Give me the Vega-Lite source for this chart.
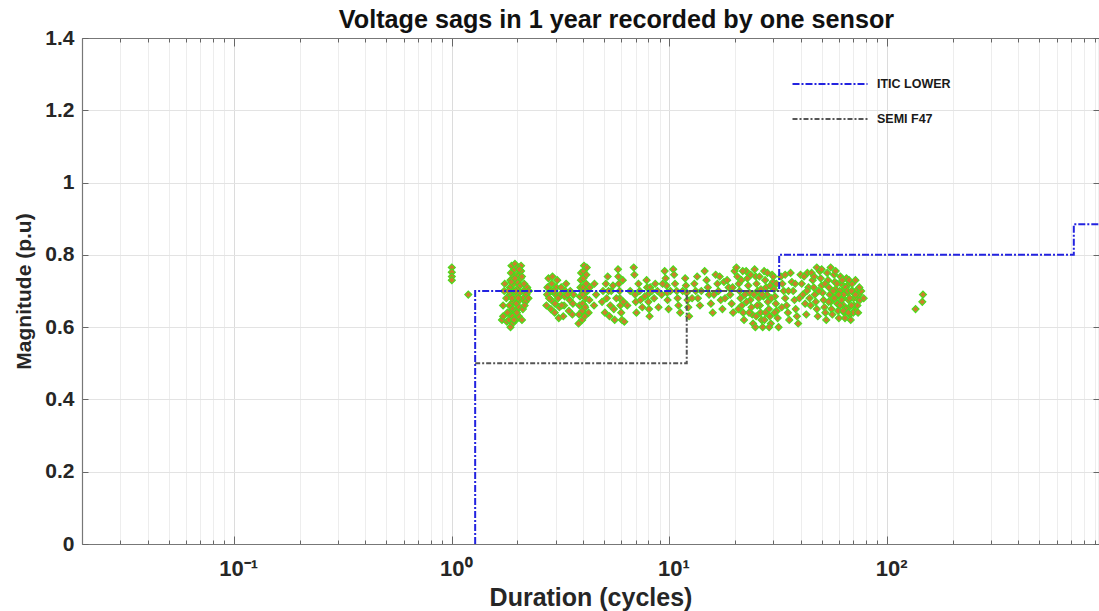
{
  "$schema": "https://vega.github.io/schema/vega-lite/v6.json",
  "width": 1017,
  "height": 506,
  "autosize": {"type": "none"},
  "padding": {"left": 82, "top": 38, "right": 0, "bottom": 67},
  "background": "white",
  "title": {"text": "Voltage sags in 1 year recorded by one sensor", "fontSize": 25.2, "fontWeight": "bold", "font": "Liberation Sans", "color": "#111111", "anchor": "middle", "dx": 26, "dy": 26, "baseline": "alphabetic", "offset": 0},
  "config": {"view": {"stroke": "#777777", "strokeWidth": 1}, "font": "Liberation Sans"},
  "resolve": {"axis": {"x": "independent", "y": "independent"}},
  "datasets": {
    "pts": [
      {"d":1.0,"m":0.765},{"d":1.0,"m":0.752},{"d":1.0,"m":0.74},{"d":1.0,"m":0.73},{"d":1.19,"m":0.69},
      {"d":1.7,"m":0.62},{"d":1.72,"m":0.63},{"d":1.72,"m":0.66},{"d":1.74,"m":0.70},{"d":1.75,"m":0.72},{"d":1.78,"m":0.68},{"d":1.79,"m":0.615},
      {"d":1.83,"m":0.62},{"d":1.84,"m":0.64},{"d":1.84,"m":0.66},{"d":1.85,"m":0.69},{"d":1.85,"m":0.71},{"d":1.86,"m":0.73},{"d":1.87,"m":0.75},{"d":1.88,"m":0.77},
      {"d":1.9,"m":0.61},{"d":1.9,"m":0.63},{"d":1.91,"m":0.65},{"d":1.91,"m":0.67},{"d":1.92,"m":0.7},{"d":1.92,"m":0.72},{"d":1.93,"m":0.74},{"d":1.94,"m":0.76},{"d":1.95,"m":0.775},
      {"d":1.97,"m":0.62},{"d":1.97,"m":0.645},{"d":1.98,"m":0.665},{"d":1.98,"m":0.685},{"d":1.99,"m":0.705},{"d":2.0,"m":0.725},{"d":2.0,"m":0.745},{"d":2.01,"m":0.765},
      {"d":2.03,"m":0.63},{"d":2.04,"m":0.655},{"d":2.05,"m":0.675},{"d":2.05,"m":0.695},{"d":2.06,"m":0.715},{"d":2.07,"m":0.735},{"d":2.08,"m":0.755},{"d":2.08,"m":0.77},
      {"d":2.12,"m":0.65},{"d":2.13,"m":0.68},{"d":2.14,"m":0.70},{"d":2.15,"m":0.72},{"d":2.18,"m":0.67},{"d":2.2,"m":0.69},{"d":2.22,"m":0.71},{"d":2.25,"m":0.68},{"d":2.26,"m":0.70},
      {"d":1.8,"m":0.64},{"d":1.82,"m":0.70},{"d":1.86,"m":0.60},{"d":1.89,"m":0.68},{"d":1.93,"m":0.62},{"d":1.96,"m":0.70},{"d":1.99,"m":0.64},{"d":2.02,"m":0.68},{"d":2.02,"m":0.74},{"d":2.1,"m":0.62},{"d":2.1,"m":0.74},{"d":2.16,"m":0.66},{"d":1.88,"m":0.725},{"d":1.95,"m":0.735},{"d":2.04,"m":0.76},
      {"d":2.72,"m":0.66},{"d":2.74,"m":0.69},{"d":2.75,"m":0.71},{"d":2.78,"m":0.735},
      {"d":2.85,"m":0.65},{"d":2.86,"m":0.675},{"d":2.87,"m":0.70},{"d":2.88,"m":0.72},{"d":2.9,"m":0.74},
      {"d":2.97,"m":0.64},{"d":2.98,"m":0.665},{"d":3.0,"m":0.69},{"d":3.02,"m":0.71},{"d":3.05,"m":0.73},
      {"d":3.1,"m":0.625},{"d":3.12,"m":0.655},{"d":3.15,"m":0.69},{"d":3.18,"m":0.71},
      {"d":3.25,"m":0.63},{"d":3.28,"m":0.66},{"d":3.3,"m":0.685},{"d":3.32,"m":0.70},{"d":3.35,"m":0.72},
      {"d":3.45,"m":0.645},{"d":3.48,"m":0.675},{"d":3.5,"m":0.70},{"d":3.58,"m":0.635},{"d":3.6,"m":0.665},{"d":3.62,"m":0.69},
      {"d":2.8,"m":0.68},{"d":2.95,"m":0.70},{"d":3.08,"m":0.68},{"d":3.2,"m":0.66},{"d":3.4,"m":0.69},{"d":3.95,"m":0.70},{"d":4.06,"m":0.66},{"d":3.93,"m":0.75},{"d":4.2,"m":0.70},
      {"d":3.82,"m":0.61},{"d":3.84,"m":0.635},{"d":3.86,"m":0.66},{"d":3.88,"m":0.685},{"d":3.9,"m":0.71},{"d":3.92,"m":0.73},
      {"d":3.97,"m":0.62},{"d":3.98,"m":0.645},{"d":3.99,"m":0.665},{"d":4.0,"m":0.69},{"d":4.01,"m":0.71},{"d":4.02,"m":0.735},{"d":4.03,"m":0.755},{"d":4.05,"m":0.77},
      {"d":4.08,"m":0.63},{"d":4.1,"m":0.655},{"d":4.12,"m":0.68},{"d":4.13,"m":0.70},{"d":4.14,"m":0.72},{"d":4.15,"m":0.745},{"d":4.17,"m":0.765},
      {"d":4.25,"m":0.64},{"d":4.28,"m":0.675},{"d":4.3,"m":0.71},{"d":4.5,"m":0.66},{"d":4.52,"m":0.72},{"d":4.6,"m":0.69},
      {"d":4.9,"m":0.67},{"d":4.95,"m":0.70},{"d":5.05,"m":0.64},{"d":5.1,"m":0.72},{"d":5.15,"m":0.68},{"d":5.2,"m":0.74},{"d":5.3,"m":0.63},{"d":5.35,"m":0.66},{"d":5.4,"m":0.70},{"d":5.5,"m":0.715},{"d":5.55,"m":0.65},{"d":5.6,"m":0.62},
      {"d":5.8,"m":0.76},{"d":5.82,"m":0.74},{"d":5.85,"m":0.72},{"d":5.9,"m":0.70},{"d":5.92,"m":0.68},{"d":5.95,"m":0.66},{"d":6.0,"m":0.64},{"d":6.05,"m":0.62},{"d":6.1,"m":0.73},{"d":6.15,"m":0.67},{"d":6.2,"m":0.615},
      {"d":6.85,"m":0.765},{"d":6.9,"m":0.745},{"d":6.95,"m":0.69},{"d":7.0,"m":0.67},{"d":7.05,"m":0.64},{"d":7.3,"m":0.70},{"d":7.35,"m":0.675},{"d":7.5,"m":0.655},
      {"d":7.85,"m":0.73},{"d":7.9,"m":0.71},{"d":7.95,"m":0.69},{"d":8.0,"m":0.67},{"d":8.05,"m":0.65},{"d":8.1,"m":0.63},{"d":8.15,"m":0.71},
      {"d":8.5,"m":0.68},{"d":8.6,"m":0.72},{"d":8.8,"m":0.70},{"d":8.9,"m":0.655},
      {"d":9.5,"m":0.755},{"d":9.6,"m":0.735},{"d":9.7,"m":0.715},{"d":9.75,"m":0.695},{"d":9.8,"m":0.675},{"d":9.9,"m":0.65},
      {"d":10.4,"m":0.76},{"d":10.5,"m":0.745},{"d":10.6,"m":0.72},{"d":10.8,"m":0.70},{"d":10.9,"m":0.68},{"d":11.0,"m":0.66},{"d":11.2,"m":0.64},
      {"d":11.8,"m":0.735},{"d":11.9,"m":0.715},{"d":12.0,"m":0.695},{"d":12.1,"m":0.675},{"d":12.2,"m":0.655},{"d":12.3,"m":0.63},
      {"d":13.0,"m":0.72},{"d":13.2,"m":0.70},{"d":13.5,"m":0.68},{"d":13.8,"m":0.66},{"d":13.4,"m":0.74},
      {"d":14.5,"m":0.755},{"d":14.8,"m":0.73},{"d":15.0,"m":0.71},{"d":15.2,"m":0.69},{"d":15.5,"m":0.665},{"d":15.8,"m":0.64},
      {"d":16.3,"m":0.745},{"d":16.6,"m":0.72},{"d":16.8,"m":0.70},{"d":17.2,"m":0.675},{"d":17.5,"m":0.65},{"d":17.8,"m":0.725},
      {"d":18.4,"m":0.73},{"d":18.7,"m":0.71},{"d":19.0,"m":0.69},{"d":19.3,"m":0.665},{"d":19.6,"m":0.64},{"d":19.9,"m":0.755},
      {"d":5.25,"m":0.70},{"d":5.7,"m":0.68},{"d":6.4,"m":0.66},{"d":6.6,"m":0.70},{"d":7.2,"m":0.72},{"d":7.7,"m":0.685},{"d":8.3,"m":0.70},{"d":9.2,"m":0.69},{"d":9.3,"m":0.72},{"d":10.1,"m":0.70},{"d":11.5,"m":0.70},{"d":12.7,"m":0.68},{"d":14.0,"m":0.70},{"d":16.0,"m":0.69},{"d":17.0,"m":0.74},{"d":18.0,"m":0.68},{"d":19.5,"m":0.71},
      {"d":20.3,"m":0.765},{"d":20.5,"m":0.74},{"d":20.8,"m":0.72},{"d":21.0,"m":0.70},{"d":21.2,"m":0.68},{"d":21.5,"m":0.66},{"d":21.8,"m":0.64},{"d":22.0,"m":0.62},
      {"d":22.5,"m":0.755},{"d":22.8,"m":0.735},{"d":23.0,"m":0.715},{"d":23.3,"m":0.695},{"d":23.5,"m":0.675},{"d":23.8,"m":0.655},{"d":24.0,"m":0.635},{"d":24.2,"m":0.61},
      {"d":24.6,"m":0.76},{"d":24.9,"m":0.74},{"d":25.1,"m":0.72},{"d":25.4,"m":0.70},{"d":25.7,"m":0.68},{"d":26.0,"m":0.66},{"d":26.2,"m":0.64},{"d":26.5,"m":0.62},{"d":26.8,"m":0.60},
      {"d":27.2,"m":0.755},{"d":27.5,"m":0.73},{"d":27.8,"m":0.71},{"d":28.0,"m":0.69},{"d":28.3,"m":0.67},{"d":28.6,"m":0.65},{"d":28.9,"m":0.63},{"d":29.2,"m":0.61},
      {"d":29.6,"m":0.745},{"d":29.9,"m":0.725},{"d":30.2,"m":0.705},{"d":30.5,"m":0.685},{"d":30.8,"m":0.665},{"d":31.1,"m":0.645},{"d":31.4,"m":0.625},{"d":31.7,"m":0.60},
      {"d":21.7,"m":0.755},{"d":23.6,"m":0.745},{"d":26.3,"m":0.705},{"d":27.0,"m":0.685},{"d":29.0,"m":0.715},{"d":25.0,"m":0.63},{"d":22.2,"m":0.69},{"d":30.0,"m":0.74},
      {"d":20.7,"m":0.65},{"d":21.4,"m":0.73},{"d":22.6,"m":0.67},{"d":23.2,"m":0.64},{"d":24.4,"m":0.69},{"d":25.3,"m":0.66},{"d":25.9,"m":0.74},{"d":26.6,"m":0.69},{"d":27.6,"m":0.64},{"d":28.2,"m":0.75},{"d":29.4,"m":0.68},{"d":30.4,"m":0.64},{"d":31.0,"m":0.72},{"d":28.7,"m":0.60},{"d":24.8,"m":0.60},{"d":27.3,"m":0.62},
      {"d":32.5,"m":0.74},{"d":33,"m":0.72},{"d":33.5,"m":0.70},{"d":34,"m":0.68},{"d":34.5,"m":0.66},{"d":35,"m":0.64},{"d":35.5,"m":0.62},{"d":32.8,"m":0.655},
      {"d":36,"m":0.75},{"d":36.5,"m":0.725},{"d":37,"m":0.70},{"d":37.5,"m":0.675},{"d":38,"m":0.65},{"d":38.5,"m":0.63},{"d":39,"m":0.61},
      {"d":40,"m":0.745},{"d":40.5,"m":0.72},{"d":41,"m":0.69},{"d":42,"m":0.665},{"d":42.5,"m":0.635},{"d":43.5,"m":0.71},{"d":44,"m":0.68},{"d":43,"m":0.75},
      {"d":34.0,"m":0.745},{"d":35.2,"m":0.70},{"d":37.8,"m":0.72},{"d":39.5,"m":0.68},{"d":41.5,"m":0.74},{"d":42.8,"m":0.70},
      {"d":45,"m":0.75},{"d":45.5,"m":0.73},{"d":46,"m":0.71},{"d":46.5,"m":0.69},{"d":47,"m":0.67},{"d":47.5,"m":0.65},{"d":48,"m":0.63},
      {"d":49,"m":0.755},{"d":49.5,"m":0.735},{"d":50,"m":0.715},{"d":50.5,"m":0.695},{"d":51,"m":0.675},{"d":51.5,"m":0.655},{"d":52,"m":0.64},{"d":52.5,"m":0.62},
      {"d":53,"m":0.75},{"d":53.5,"m":0.73},{"d":54,"m":0.71},{"d":54.5,"m":0.69},{"d":55,"m":0.67},{"d":55.5,"m":0.65},{"d":56,"m":0.635},
      {"d":57,"m":0.745},{"d":57.5,"m":0.725},{"d":58,"m":0.705},{"d":58.5,"m":0.685},{"d":59,"m":0.665},{"d":59.5,"m":0.645},{"d":60,"m":0.625},
      {"d":61,"m":0.74},{"d":61.5,"m":0.72},{"d":62,"m":0.70},{"d":62.5,"m":0.68},{"d":63,"m":0.66},{"d":63.5,"m":0.64},{"d":64,"m":0.625},
      {"d":65,"m":0.735},{"d":65.5,"m":0.715},{"d":66,"m":0.695},{"d":66.5,"m":0.675},{"d":67,"m":0.655},{"d":67.5,"m":0.635},{"d":68,"m":0.62},
      {"d":69,"m":0.72},{"d":69.5,"m":0.70},{"d":70,"m":0.68},{"d":70.5,"m":0.66},{"d":71,"m":0.645},{"d":72,"m":0.70},{"d":72.5,"m":0.68},{"d":73,"m":0.66},{"d":74,"m":0.69},{"d":75,"m":0.675},{"d":76,"m":0.70},{"d":78,"m":0.68},
      {"d":56.5,"m":0.70},{"d":57.2,"m":0.68},{"d":58.8,"m":0.72},{"d":60.5,"m":0.70},{"d":60.8,"m":0.66},{"d":62.2,"m":0.73},{"d":63.2,"m":0.69},{"d":64.5,"m":0.71},{"d":64.5,"m":0.65},{"d":65.8,"m":0.70},{"d":66.8,"m":0.73},{"d":67.2,"m":0.68},{"d":68.5,"m":0.70},{"d":68.5,"m":0.66},{"d":69.8,"m":0.64},{"d":71.5,"m":0.69},{"d":71.5,"m":0.73},{"d":73.5,"m":0.64},{"d":74.5,"m":0.71},{"d":66.2,"m":0.64},{"d":62.8,"m":0.645},{"d":59.8,"m":0.69},{"d":61.8,"m":0.675},{"d":48.5,"m":0.70},{"d":51.8,"m":0.72},{"d":44.5,"m":0.66},{"d":53.8,"m":0.67},{"d":46.2,"m":0.74},
      {"d":47.5,"m":0.765},{"d":50,"m":0.76},{"d":55,"m":0.765},{"d":58,"m":0.755},
      {"d":135,"m":0.65},{"d":145,"m":0.67},{"d":146,"m":0.69}
    ],
    "lines": [
      {"s":"ITIC LOWER","o":1,"d":1.28,"m":0},
      {"s":"ITIC LOWER","o":2,"d":1.28,"m":0.7},
      {"s":"ITIC LOWER","o":3,"d":31.9,"m":0.7},
      {"s":"ITIC LOWER","o":4,"d":31.9,"m":0.8},
      {"s":"ITIC LOWER","o":5,"d":720,"m":0.8},
      {"s":"ITIC LOWER","o":6,"d":720,"m":0.885},
      {"s":"ITIC LOWER","o":7,"d":940,"m":0.885},
      {"s":"SEMI F47","o":1,"d":1.28,"m":0.5},
      {"s":"SEMI F47","o":2,"d":12,"m":0.5},
      {"s":"SEMI F47","o":3,"d":12,"m":0.7},
      {"s":"SEMI F47","o":4,"d":31.9,"m":0.7}
    ]
  },
  "layer": [
    {
      "data": {"name": "pts"},
      "mark": {"type": "point", "shape": "diamond", "filled": true, "fill": "#cc7f2c", "stroke": "#45e01c", "strokeWidth": 1.1, "size": 50, "opacity": 1, "fillOpacity": 1, "strokeOpacity": 1, "clip": true},
      "encoding": {
        "x": {
          "field": "d", "type": "quantitative",
          "scale": {"type": "log", "domain": [0.02, 940], "nice": false},
          "title": "Duration (cycles)",
          "axis": {
            "values": [0.02,0.03,0.04,0.05,0.06,0.07,0.08,0.09,0.1,0.2,0.3,0.4,0.5,0.6,0.7,0.8,0.9,1,2,3,4,5,6,7,8,9,10,20,30,40,50,60,70,80,90,100,200,300,400,500,600,700,800,900],
            "labelExpr": "datum.value == 0.1 ? '10⁻¹' : datum.value == 1 ? '10⁰' : datum.value == 10 ? '10¹' : datum.value == 100 ? '10²' : ''",
            "labelOverlap": false, "labelFlush": false, "labelOffset": 4,
            "labelFontSize": 22, "labelFontWeight": "bold", "labelColor": "#262626", "labelPadding": 22,
            "tickSize": {"condition": {"test": "datum.value == 0.1 || datum.value == 1 || datum.value == 10 || datum.value == 100", "value": -8}, "value": -4},
            "tickColor": "#666666", "domainColor": "#777777", "domainWidth": 1.2,
            "grid": true,
            "gridColor": {"condition": {"test": "datum.value == 0.1 || datum.value == 1 || datum.value == 10 || datum.value == 100", "value": "#dcdcdc"}, "value": "#ededed"},
            "titleFontSize": 25, "titleFontWeight": "bold", "titleColor": "#262626", "titlePadding": 2
          }
        },
        "y": {
          "field": "m", "type": "quantitative",
          "scale": {"domain": [0, 1.4], "nice": false},
          "title": "Magnitude (p.u)",
          "axis": {
            "values": [0, 0.2, 0.4, 0.6, 0.8, 1, 1.2, 1.4],
            "format": "~g",
            "labelFontSize": 21, "labelFontWeight": "bold", "labelColor": "#262626", "labelPadding": 14,
            "tickSize": -6, "tickColor": "#666666", "domainColor": "#777777", "domainWidth": 1.2,
            "grid": true, "gridColor": "#e3e3e3",
            "titleFontSize": 21, "titleFontWeight": "bold", "titleColor": "#262626", "titlePadding": 10
          }
        }
      }
    },
    {
      "data": {"name": "lines"},
      "mark": {"type": "line", "strokeWidth": 2, "clip": true},
      "encoding": {
        "x": {
          "field": "d", "type": "quantitative",
          "axis": {
            "orient": "top", "title": null, "labels": false, "grid": false,
            "values": [0.02,0.03,0.04,0.05,0.06,0.07,0.08,0.09,0.1,0.2,0.3,0.4,0.5,0.6,0.7,0.8,0.9,1,2,3,4,5,6,7,8,9,10,20,30,40,50,60,70,80,90,100,200,300,400,500,600,700,800,900],
            "tickSize": {"condition": {"test": "datum.value == 0.1 || datum.value == 1 || datum.value == 10 || datum.value == 100", "value": -8}, "value": -4},
            "tickColor": "#666666", "domainColor": "#777777", "domainWidth": 1.2
          }
        },
        "y": {
          "field": "m", "type": "quantitative",
          "axis": {
            "orient": "right", "title": null, "labels": false, "grid": false,
            "values": [0, 0.2, 0.4, 0.6, 0.8, 1, 1.2, 1.4],
            "tickSize": -6, "tickColor": "#666666", "domainColor": "#777777", "domainWidth": 1.2
          }
        },
        "order": {"field": "o", "type": "quantitative"},
        "color": {
          "field": "s", "type": "nominal",
          "scale": {"domain": ["ITIC LOWER", "SEMI F47"], "range": ["#2323e0", "#555555"]},
          "legend": {"orient": "none", "legendX": 728, "legendY": 26, "title": null, "symbolType": "M-2,0L2,0", "symbolSize": 1406, "symbolStrokeWidth": 2, "labelFontSize": 12.5, "labelFontWeight": "bold", "labelColor": "#1a1a1a", "labelOffset": 27, "rowPadding": 8, "padding": 0}
        },
        "strokeDash": {
          "field": "s", "type": "nominal",
          "scale": {"domain": ["ITIC LOWER", "SEMI F47"], "range": [[7, 2, 2, 2], [5, 2, 2, 2]]},
          "legend": {"orient": "none", "legendX": 728, "legendY": 26, "title": null, "symbolType": "M-2,0L2,0", "symbolSize": 1406, "symbolStrokeWidth": 2, "labelFontSize": 12.5, "labelFontWeight": "bold", "labelColor": "#1a1a1a", "labelOffset": 27, "rowPadding": 8, "padding": 0}
        }
      }
    }
  ]
}
